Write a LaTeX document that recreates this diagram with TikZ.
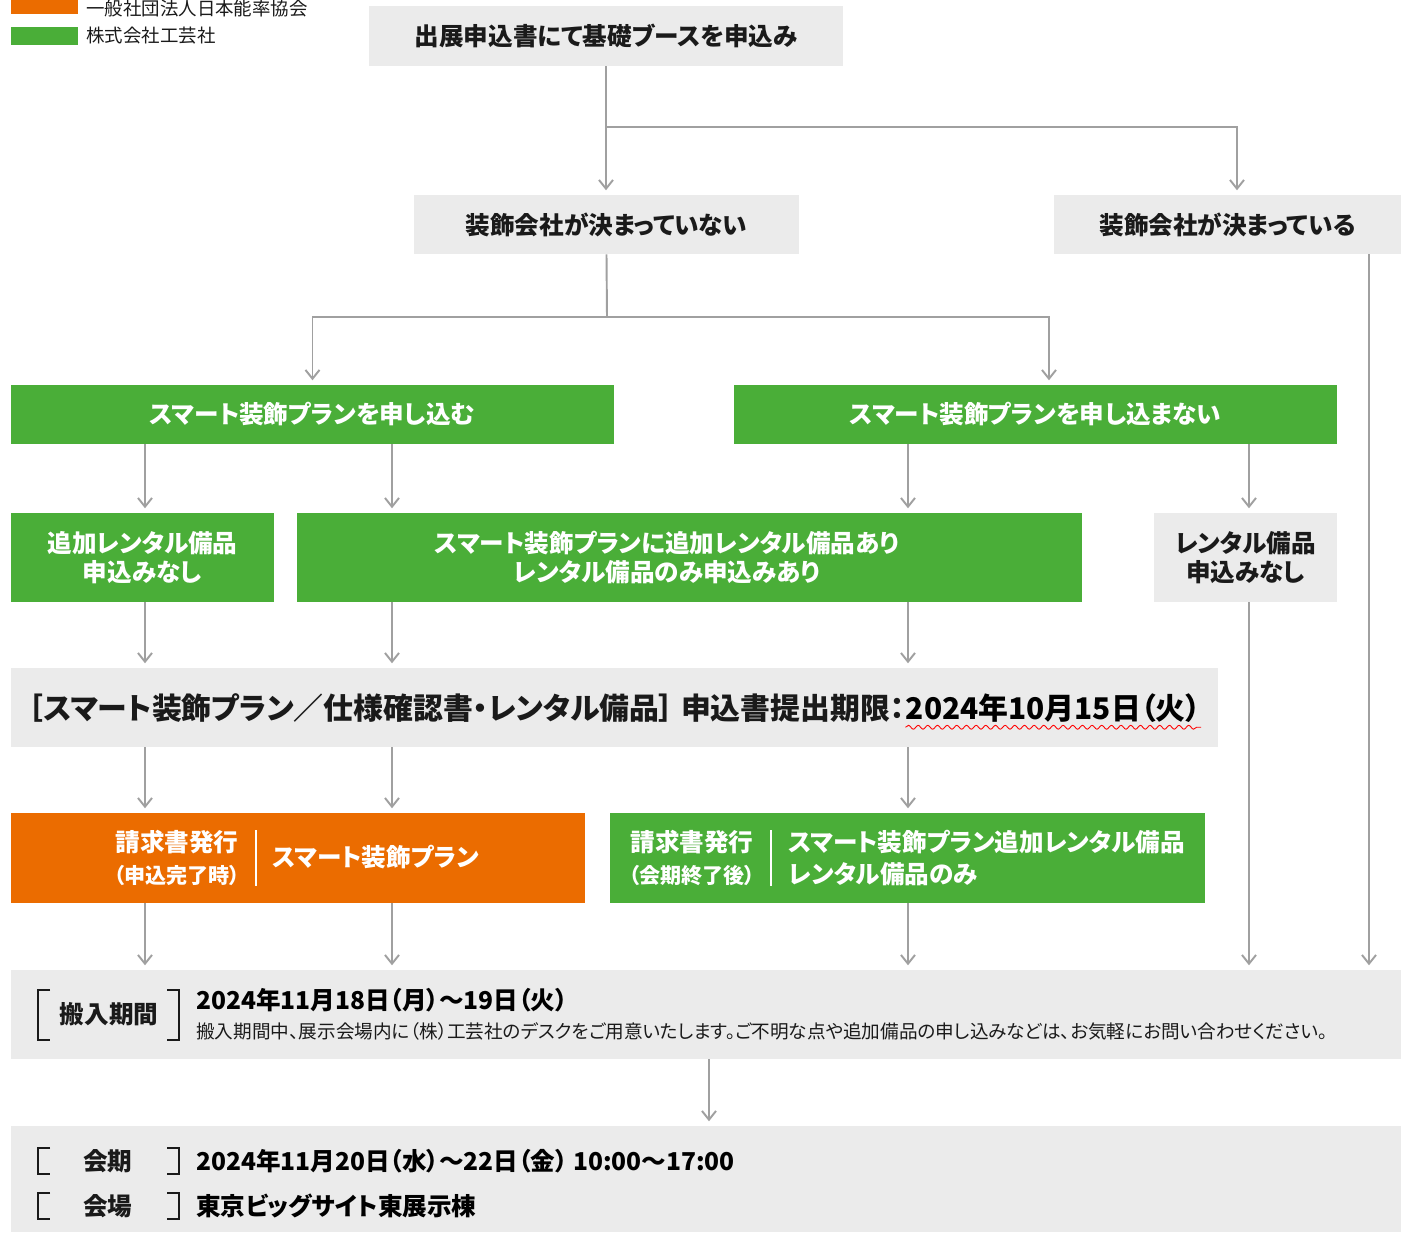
\documentclass[tikz,border=0pt]{standalone}
\usepackage{fontspec}
\setmainfont{Noto Sans CJK JP}[RawFeature=+palt]
\usepackage{tikz}
\usetikzlibrary{positioning,arrows.meta,decorations.pathmorphing}

\definecolor{boxgray}{HTML}{EBEBEB}
\definecolor{kgreen}{HTML}{4AAE38}
\definecolor{korange}{HTML}{EB6C00}
\definecolor{linegray}{HTML}{A0A0A0}
\definecolor{inkdark}{HTML}{1A1A1A}

\tikzset{
  box/.style={inner sep=0pt, align=center, font=\bfseries\fontsize{14}{16.5}\selectfont},
  graybox/.style={box, fill=boxgray, text=inkdark},
  greenbox/.style={box, fill=kgreen, text=white},
  orangebox/.style={box, fill=korange, text=white},
  boxsize/.style 2 args={minimum width=#1*0.02cm, minimum height=#2*0.02cm},
  flow/.style={draw=linegray, line width=1.1pt, -{Straight Barb[length=5pt,width=8pt]}, shorten >=2.5pt},
  link/.style={draw=linegray, line width=1.1pt},
  bracket/.style={draw=inkdark, line width=0.6pt},
  divider/.style={draw=white, line width=0.6pt},
  legendkey/.style={minimum width=67*0.02cm, minimum height=18*0.02cm, inner sep=0pt},
  legendtext/.style={font=\fontsize{10.5}{12}\selectfont, text=inkdark, inner sep=0pt, anchor=west},
  boldtext/.style={font=\bfseries\fontsize{14}{16.5}\selectfont, inner sep=0pt},
  smalltext/.style={font=\fontsize{10.6}{12}\selectfont, text=inkdark, inner sep=0pt, anchor=west},
  wavy/.style={draw=red, line width=0.5pt, decorate, decoration={snake, amplitude=1.1pt, segment length=5.5pt}},
}

\begin{document}
\begin{tikzpicture}[x=0.02cm, y=-0.02cm]
  \useasboundingbox (0,0) rectangle (1401,1232);

  % legend
  \node[legendkey, fill=korange] (keyjma) at (44.5,5) {};
  \node[legendtext] (labjma) at (86,8) {一般社団法人日本能率協会};
  \node[legendkey, fill=kgreen] (keyks) at (44.5,36) {};
  \node[legendtext] (labks) at (86,36) {株式会社工芸社};

  % columns used by the connectors
  \coordinate (colA) at (145,0);
  \coordinate (colB) at (392,0);
  \coordinate (colC) at (908,0);
  \coordinate (colD) at (1249,0);
  \coordinate (colE) at (1369,0);
  \coordinate (colF) at (1237,0);
  \coordinate (colG) at (1049,0);
  \coordinate (colH) at (709,0);
  \coordinate (fork1) at (607,127);
  \coordinate (fork2) at (607,317);

  % boxes
  \node[graybox, boxsize={474}{60}] (apply) at (606,36) {出展申込書にて基礎ブースを申込み};
  \node[graybox, boxsize={385}{59}] (nodeco) at (606.5,224.5) {装飾会社が決まっていない};
  \node[graybox, boxsize={347}{59}] (deco) at (1227.5,224.5) {装飾会社が決まっている};
  \node[greenbox, boxsize={603}{59}] (smart) at (312.5,414.5) {スマート装飾プランを申し込む};
  \node[greenbox, boxsize={603}{59}] (nosmart) at (1035.5,414.5) {スマート装飾プランを申し込まない};
  \node[greenbox, boxsize={263}{89}] (norent) at (142.5,557.5) {追加レンタル備品\\申込みなし};
  \node[greenbox, boxsize={785}{89}] (rent) at (689.5,557.5) {};
  \node[boldtext, text=white, align=center] (renttxt) at (667,557.5)
    {スマート装飾プランに追加レンタル備品あり\\レンタル備品のみ申込みあり};
  \node[graybox, boxsize={183}{89}] (norentB) at (1245.5,557.5) {レンタル備品\\申込みなし};

  % deadline
  \node[graybox, boxsize={1207}{79}] (deadline) at (614.5,707.5) {};
  \node[boldtext, text=inkdark, anchor=west, font=\bfseries\fontsize{17}{20}\selectfont] (deadlinetxt) at (28,708)
    {［スマート装飾プラン／仕様確認書・レンタル備品］\ 申込書提出期限：};
  \node[boldtext, text=black, font=\bfseries\fontsize{17}{20}\selectfont, right=0pt of deadlinetxt] (deadlinedate)
    {2024年10月15日（火）};
  \draw[wavy] ([yshift=-4.5pt]deadlinedate.base west) -- ([yshift=-4.5pt]deadlinedate.base east);

  % invoices
  \node[orangebox, boxsize={574}{90}] (billA) at (298,858) {};
  \node[boldtext, text=white, align=center] (billAwhen) at (177,858)
    {請求書発行\\[2pt]{\fontsize{12}{14}\selectfont （申込完了時）}};
  \draw[divider] (256,830) -- (256,886);
  \node[boldtext, text=white, anchor=west] (billAwhat) at (272,857) {スマート装飾プラン};

  \node[greenbox, boxsize={595}{90}] (billB) at (907.5,858) {};
  \node[boldtext, text=white, align=center] (billBwhen) at (692,858)
    {請求書発行\\[2pt]{\fontsize{12}{14}\selectfont （会期終了後）}};
  \draw[divider] (771,830) -- (771,886);
  \node[boldtext, text=white, anchor=west, align=left, font=\bfseries\fontsize{14}{18}\selectfont] (billBwhat) at (788,858)
    {スマート装飾プラン追加レンタル備品\\レンタル備品のみ};

  % move-in
  \node[graybox, boxsize={1390}{89}] (movein) at (706,1014.5) {};
  \draw[bracket] (50,990) -- (38,990) -- (38,1040) -- (50,1040);
  \draw[bracket] (167,990) -- (179,990) -- (179,1040) -- (167,1040);
  \node[boldtext, text=inkdark] (moveinlab) at (109,1014) {搬入期間};
  \node[boldtext, text=black, anchor=west] (moveindate) at (196,1000) {2024年11月18日（月）〜19日（火）};
  \node[smalltext] (moveinnote) at (196,1031)
    {搬入期間中、展示会場内に（株）工芸社のデスクをご用意いたします。ご不明な点や追加備品の申し込みなどは、お気軽にお問い合わせください。};

  % show period and venue
  \node[graybox, boxsize={1390}{106}] (period) at (706,1179) {};
  \draw[bracket] (50,1148) -- (38,1148) -- (38,1174) -- (50,1174);
  \draw[bracket] (167,1148) -- (179,1148) -- (179,1174) -- (167,1174);
  \draw[bracket] (50,1193) -- (38,1193) -- (38,1219) -- (50,1219);
  \draw[bracket] (167,1193) -- (179,1193) -- (179,1219) -- (167,1219);
  \node[boldtext, text=inkdark] (periodlab) at (108,1161) {会期};
  \node[boldtext, text=black, anchor=west] (perioddate) at (196,1161) {2024年11月20日（水）〜22日（金） 10:00〜17:00};
  \node[boldtext, text=inkdark] (venuelab) at (108,1206) {会場};
  \node[boldtext, text=black, anchor=west] (venue) at (196,1206) {東京ビッグサイト東展示棟};

  % connectors
  \draw[flow] (apply.south) -- (apply.south |- nodeco.north);
  \draw[flow] (fork1) -| (colF |- deco.north);
  \draw[link] (nodeco.south) -- (fork2);
  \draw[flow] (fork2) -| (smart.north);
  \draw[flow] (fork2) -| (colG |- nosmart.north);

  \draw[flow] (colA |- smart.south) -- (colA |- norent.north);
  \draw[flow] (colB |- smart.south) -- (colB |- rent.north);
  \draw[flow] (colC |- nosmart.south) -- (colC |- rent.north);
  \draw[flow] (colD |- nosmart.south) -- (colD |- norentB.north);

  \draw[flow] (colA |- norent.south) -- (colA |- deadline.north);
  \draw[flow] (colB |- rent.south) -- (colB |- deadline.north);
  \draw[flow] (colC |- rent.south) -- (colC |- deadline.north);

  \draw[flow] (colA |- deadline.south) -- (colA |- billA.north);
  \draw[flow] (colB |- deadline.south) -- (colB |- billA.north);
  \draw[flow] (colC |- deadline.south) -- (colC |- billB.north);

  \draw[flow] (colA |- billA.south) -- (colA |- movein.north);
  \draw[flow] (colB |- billA.south) -- (colB |- movein.north);
  \draw[flow] (colC |- billB.south) -- (colC |- movein.north);
  \draw[flow] (colD |- norentB.south) -- (colD |- movein.north);
  \draw[flow] (colE |- deco.south) -- (colE |- movein.north);

  \draw[flow] (colH |- movein.south) -- (colH |- period.north);
\end{tikzpicture}
\end{document}
